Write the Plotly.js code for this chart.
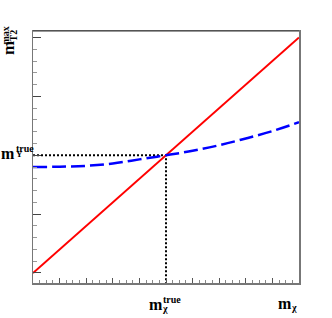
<!DOCTYPE html>
<html><head><meta charset="utf-8">
<script src="https://cdn.plot.ly/plotly-3.0.1.min.js"></script>
<style>html,body{margin:0;padding:0;background:#fff}</style>
</head><body><div id="c" style="width:332px;height:318px"></div>
<script>
// Data (trial mass m_chi on x, m_T2^max on y, arbitrary units)
var redX = [0, 10];
var redY = [0, 4];
var blueX = [0, 1, 2, 3, 4, 5, 6, 7, 8, 9, 10];
var blueY = [1.80, 1.805, 1.82, 1.86, 1.93, 2.00, 2.075, 2.17, 2.285, 2.41, 2.56];
var trueX = 5;
var trueY = 2;
var yMin = -0.17, yMax = 4.11;

var W = 332, H = 318, L = 33, R = 33, T = 31, B = 35;
var pw = W - L - R, ph = H - T - B;
function ann(text, px, py, size, angle) {
  return {text: text, xref: 'paper', yref: 'paper',
    x: (px - L) / pw, y: (H - B - py) / ph,
    xanchor: 'center', yanchor: 'middle', showarrow: false,
    textangle: angle || 0, borderpad: 0,
    font: {family: 'Liberation Serif', size: size, color: '#000'}};
}

var traces = [
  {x: [0, trueX, trueX], y: [trueY, trueY, yMin], mode: 'lines',
   line: {color: '#000', width: 2, dash: '2px,2px'}, hoverinfo: 'skip'},
  {x: redX, y: redY, mode: 'lines', line: {color: '#ff0000', width: 2}},
  {x: blueX, y: blueY, mode: 'lines', line: {color: '#0000ff', width: 2.5, dash: '14px,5px', shape: 'spline'}}
];

var layout = {
  width: W, height: H, margin: {l: L, r: R, t: T, b: B},
  paper_bgcolor: '#fff', plot_bgcolor: '#fff', showlegend: false,
  xaxis: {range: [0, 10], dtick: 1, ticks: 'inside', ticklen: 5, tickcolor: '#555', tickwidth: 1,
    minor: {dtick: 0.25, ticks: 'inside', ticklen: 3, tickcolor: '#888'},
    showticklabels: false, showgrid: false, zeroline: false,
    showline: true, mirror: true, linecolor: '#777', linewidth: 1.5},
  yaxis: {range: [yMin, yMax], dtick: 1, ticks: 'inside', ticklen: 8, tickcolor: '#444', tickwidth: 1,
    minor: {dtick: 0.2, ticks: 'inside', ticklen: 4, tickcolor: '#999'},
    showticklabels: false, showgrid: false, zeroline: false,
    showline: true, mirror: true, linecolor: '#777', linewidth: 1.5},
  annotations: [
    ann('<b>m</b>', 8.5, 48.5, 17, -90),
    ann('<b>max</b>', 5, 35.5, 10, -90),
    ann('<b>T2</b>', 12.5, 36, 10, -90),
    ann('<b>m</b>', 8, 153, 16),
    ann('<b>Y</b>', 19.5, 154, 9),
    ann('<b>true</b>', 24.5, 148, 10),
    ann('<b>m</b>', 156, 304.5, 16),
    ann('<b>χ</b>', 165, 308, 10),
    ann('<b>true</b>', 172, 299, 10),
    ann('<b>m</b>', 285, 303, 16),
    ann('<b>χ</b>', 293.5, 307.7, 10)
  ],
  shapes: [{type: 'line', xref: 'paper', yref: 'paper', x0: 0, x1: 1, y0: 1, y1: 1,
    line: {color: '#333', width: 1.2}}]
};
Plotly.newPlot('c', traces, layout, {staticPlot: true});
</script></body></html>
